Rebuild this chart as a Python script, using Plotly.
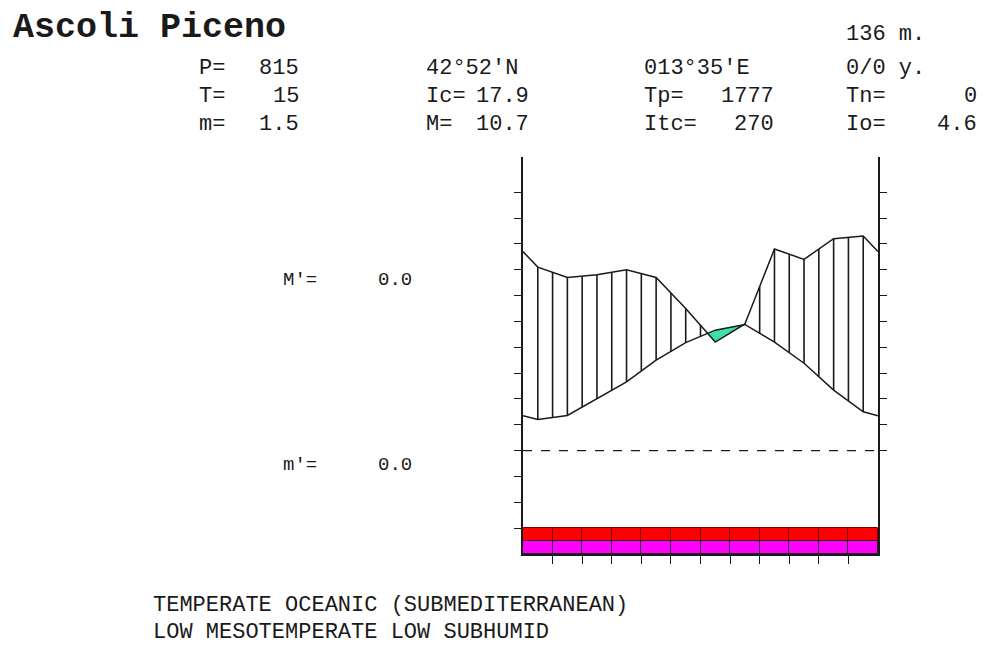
import plotly.graph_objects as go
import numpy as np

# ---------------- data ----------------
months = ["Jan", "Feb", "Mar", "Apr", "May", "Jun",
          "Jul", "Aug", "Sep", "Oct", "Nov", "Dec"]
temperature = [6.0, 6.8, 10.1, 13.3, 17.5, 20.9, 23.3, 24.4, 21.0, 16.9, 11.7, 7.5]   # degC
precipitation = [71, 67, 68, 70, 67, 55, 42, 49, 78, 74, 82, 83]                      # mm

station = "Ascoli Piceno"
altitude = "136 m."
header_labels = [["P=", "T=", "m="],
                 ["", "Ic=", "M="],
                 ["", "Tp=", "Itc="],
                 ["", "Tn=", "Io="]]
header_values = [["815", "15", "1.5"],
                 ["42°52'N", "17.9", "10.7"],
                 ["013°35'E", "1777", "270"],
                 ["0/0 y.", "0", "4.6"]]
mprime_labels = ["M'=", "m'="]
mprime_values = ["0.0", "0.0"]
classification = ["TEMPERATE OCEANIC (SUBMEDITERRANEAN)",
                  "LOW MESOTEMPERATE LOW SUBHUMID"]

# ---------------- geometry helpers ----------------
OFF = 8                      # default body margin of the html page
W, H = 985 - OFF, 670 - OFF
L, R, T, B = 523, 878, 157, 554   # plot box in page pixels
def px(x):
    return (x - L) / (R - L)
def py(y):
    return (B - y) / (B - T)

FONT = "Liberation Mono, Courier New, monospace"
FS = 22
INK = "#1a1a1a"

# curve knots: month midpoints plus wrapped edges
mid = np.arange(12) + 0.5
t = np.array(temperature, float)
p = np.array(precipitation, float) / 2.0   # P = 2T scale
kx = np.concatenate([[0.0], mid, [12.0]])
kt = np.concatenate([[(t[0] + t[-1]) / 2], t, [(t[0] + t[-1]) / 2]])
kp = np.concatenate([[(p[0] + p[-1]) / 2], p, [(p[0] + p[-1]) / 2]])

fig = go.Figure()

# frost bands
fig.add_trace(go.Bar(x=mid, y=[2.5] * 12, base=-17.5, width=1,
                     marker=dict(color="#ff0000", line=dict(color="#7a0000", width=1)),
                     hoverinfo="skip", showlegend=False))
fig.add_trace(go.Bar(x=mid, y=[2.5] * 12, base=-20, width=1,
                     marker=dict(color="#ff00ff", line=dict(color="#202020", width=1)),
                     hoverinfo="skip", showlegend=False))

# dry period (T above P/2) -> green polygon(s)
d = kt - kp
n = len(kx)
segs = []
i = 0
while i < n - 1:
    if d[i] <= 0 < d[i + 1] or (d[i] > 0 and i == 0):
        if d[i] > 0:
            xa = kx[i]
        else:
            f = -d[i] / (d[i + 1] - d[i]); xa = kx[i] + f * (kx[i + 1] - kx[i])
        j = i + 1
        while j < n - 1 and d[j] > 0 and d[j + 1] > 0:
            j += 1
        if j < n - 1 and d[j] > 0 >= d[j + 1]:
            f = d[j] / (d[j] - d[j + 1]); xb = kx[j] + f * (kx[j + 1] - kx[j])
        else:
            xb = kx[j]
        inner = [k for k in range(n) if xa < kx[k] < xb]
        top_x = [xa] + [kx[k] for k in inner] + [xb]
        top_y = list(np.interp(top_x, kx, kt))
        bot_x = top_x[::-1]
        bot_y = list(np.interp(bot_x, kx, kp))
        segs.append((top_x + bot_x, top_y + bot_y))
        i = j + 1
    else:
        i += 1
for sx, sy in segs:
    fig.add_trace(go.Scatter(x=sx, y=sy, mode="lines", fill="toself",
                             fillcolor="#3fe0a8", line=dict(color="#3fe0a8", width=0.5),
                             hoverinfo="skip", showlegend=False))

# humid period hatching every half month
hx, hy = [], []
for k in range(1, 24):
    xx = k * 0.5
    tv = float(np.interp(xx, kx, kt)); pv = float(np.interp(xx, kx, kp))
    if pv > tv:
        hx += [xx, xx, None]; hy += [tv, pv, None]
fig.add_trace(go.Scatter(x=hx, y=hy, mode="lines", line=dict(color=INK, width=1.6),
                         hoverinfo="skip", showlegend=False))

# curves
fig.add_trace(go.Scatter(x=kx, y=kt, mode="lines", line=dict(color=INK, width=1.5),
                         name="T", showlegend=False))
fig.add_trace(go.Scatter(x=kx, y=kp, mode="lines", line=dict(color=INK, width=1.5),
                         name="P", showlegend=False))

# right axis dummy trace
fig.add_trace(go.Scatter(x=[None], y=[None], yaxis="y2", showlegend=False))

fig.add_hline(y=0, line=dict(color=INK, width=1.2, dash="dash"))

# ---------------- text ----------------
ann = []
def text(s, x, y, anchor="left", size=FS, bold=False):
    ann.append(dict(text=("<b>%s</b>" % s) if bold else s, x=px(x), y=py(y),
                    xref="paper", yref="paper", xanchor=anchor, yanchor="middle",
                    showarrow=False, borderpad=0,
                    font=dict(family=FONT, size=size, color=INK)))

text(station, 12, 28, size=35, bold=True)
text(altitude, 845, 35)
col_lx = [198, 425, 643, 845]
col_rx = [300, 530, 775, 978]
row_y = [68, 96, 124]
for c in range(4):
    for r in range(3):
        lab = header_labels[c][r]; val = header_values[c][r]
        if lab:
            text(lab, col_lx[c], row_y[r])
            text(val, col_rx[c], row_y[r], anchor="right")
        else:
            text(val, col_lx[c], row_y[r])
for k, yy in enumerate([280, 465]):
    text(mprime_labels[k], 282, yy, size=19)
    text(mprime_values[k], 413, yy, anchor="right", size=19)
for k, yy in enumerate([605, 632]):
    text(classification[k], 152, yy)

fig.update_layout(
    width=W, height=H, autosize=False,
    margin=dict(l=L - OFF, r=W - (R - OFF), t=T - OFF, b=H - (B - OFF), pad=0),
    paper_bgcolor="white", plot_bgcolor="white",
    barmode="overlay", bargap=0,
    annotations=ann,
    xaxis=dict(range=[0, 12], showgrid=False, zeroline=False, showline=True,
               linecolor=INK, linewidth=1.5, ticks="outside", ticklen=8,
               tickcolor=INK, tickwidth=1.2, tickvals=list(range(1, 12)),
               showticklabels=False),
    yaxis=dict(range=[-20, 56.8], showgrid=False, zeroline=False, showline=True,
               linecolor=INK, linewidth=1.5, ticks="outside", ticklen=7,
               tickcolor=INK, tickwidth=1.2, tickvals=list(range(-15, 55, 5)),
               showticklabels=False),
    yaxis2=dict(range=[-20, 56.8], overlaying="y", side="right", showgrid=False,
                zeroline=False, showline=True, linecolor=INK, linewidth=1.5,
                ticks="outside", ticklen=7, tickcolor=INK, tickwidth=1.2,
                tickvals=list(range(0, 55, 5)), showticklabels=False),
)

fig.write_html("out.html")
